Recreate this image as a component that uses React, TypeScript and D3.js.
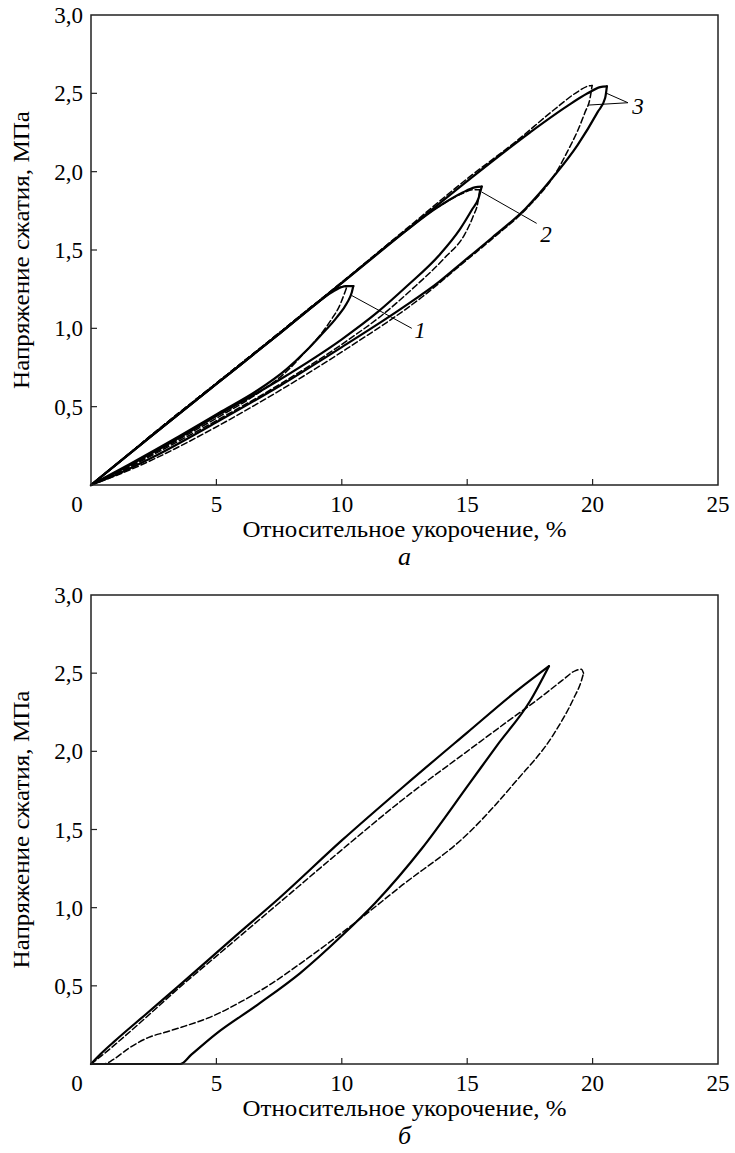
import React from "react";
import * as d3 from "d3";

type Pt = [number, number];

const xTicks = [0, 5, 10, 15, 20, 25];
const yTicks = [0.5, 1.0, 1.5, 2.0, 2.5, 3.0];
const xTitle = "Относительное укорочение, %";
const yTitle = "Напряжение сжатия, МПа";

// panel а: three loops (closed: origin -> peak -> origin), solid and dashed
const loop1Solid: Pt[] = [
  [0, 0], [1, 0.13], [2.5, 0.325], [5, 0.645], [7.5, 0.965], [9, 1.16], [9.7, 1.24], [10.15, 1.27], [10.46, 1.27],
  [10.4, 1.23], [10.2, 1.16], [9.8, 1.07], [9.13, 0.95], [8.6, 0.86], [7.8, 0.74], [6.6, 0.6], [5.1, 0.46], [3.5, 0.31], [1.5, 0.13], [0, 0],
];
const loop1Dashed: Pt[] = [
  [0, 0], [1, 0.13], [2.5, 0.33], [5, 0.65], [7.5, 0.97], [9, 1.165], [9.6, 1.235], [10.0, 1.265], [10.2, 1.265],
  [10.1, 1.22], [9.9, 1.14], [9.6, 1.06], [9.1, 0.95], [8.6, 0.86], [7.9, 0.74], [6.7, 0.59], [5.2, 0.445], [3.6, 0.3], [1.6, 0.125], [0, 0],
];
const loop2Solid: Pt[] = [
  [0, 0], [1, 0.13], [2.5, 0.325], [5, 0.645], [7.5, 0.965], [10, 1.29], [12.5, 1.615], [13.8, 1.77], [14.8, 1.865], [15.3, 1.9], [15.58, 1.905],
  [15.45, 1.83], [15.2, 1.76], [14.7, 1.63], [13.9, 1.47], [12.6, 1.27], [11.4, 1.1], [10, 0.93], [7.5, 0.67], [5, 0.44], [2.5, 0.21], [1, 0.08], [0, 0],
];
const loop2Dashed: Pt[] = [
  [0, 0], [1, 0.13], [2.5, 0.33], [5, 0.65], [7.5, 0.97], [10, 1.29], [12.5, 1.62], [13.8, 1.77], [14.8, 1.86], [15.25, 1.885], [15.5, 1.885],
  [15.42, 1.8], [15.25, 1.72], [14.9, 1.6], [14.1, 1.45], [12.8, 1.25], [11.65, 1.09], [10.2, 0.92], [7.6, 0.65], [5.1, 0.42], [2.5, 0.195], [1, 0.07], [0, 0],
];
const loop3Solid: Pt[] = [
  [0, 0], [1, 0.13], [2.5, 0.325], [5, 0.645], [7.5, 0.965], [10, 1.29], [12.5, 1.615], [15, 1.94], [17.5, 2.25], [19, 2.42], [19.8, 2.5], [20.3, 2.54], [20.57, 2.545],
  [20.5, 2.47], [20.2, 2.38], [19.4, 2.17], [18.5, 1.98], [17.3, 1.76], [16, 1.58], [14.8, 1.42], [13.9, 1.3], [12.5, 1.14], [10, 0.88], [7.5, 0.63], [5, 0.4], [2.5, 0.18], [1, 0.065], [0, 0],
];
const loop3Dashed: Pt[] = [
  [0, 0], [1, 0.13], [2.5, 0.33], [5, 0.65], [7.5, 0.97], [10, 1.295], [12.5, 1.625], [15, 1.955], [17, 2.2], [18.5, 2.4], [19.4, 2.51], [19.8, 2.545], [19.98, 2.55],
  [19.9, 2.47], [19.7, 2.38], [19.4, 2.26], [19.0, 2.13], [18.6, 2.01], [17.4, 1.77], [16.1, 1.585], [14.9, 1.425], [13.2, 1.2], [10.2, 0.87], [7.6, 0.61], [5.1, 0.38], [2.5, 0.165], [1, 0.06], [0, 0],
];

// panel б
const singleSolid: Pt[] = [
  [0, 0], [0.36, 0.06], [0.9, 0.14], [2.2, 0.32], [3.5, 0.5], [5.7, 0.81], [7.5, 1.06], [10, 1.43], [12.5, 1.78], [15, 2.12], [17, 2.39], [18.26, 2.545],
  [17.5, 2.32], [16.2, 2.04], [15.07, 1.79], [13.2, 1.38], [11.33, 1.03], [10, 0.82], [8.33, 0.58], [6.65, 0.38], [4.96, 0.19], [4.0, 0.06], [3.56, 0], [0, 0],
];
const singleDashed: Pt[] = [
  [0, 0], [0.5, 0.0], [0.9, 0.03], [1.5, 0.1], [2.3, 0.17], [3.0, 0.205], [3.6, 0.235], [4.9, 0.31], [6, 0.4], [7.06, 0.5], [8.5, 0.66], [10.5, 0.9],
  [12.3, 1.13], [15.07, 1.48], [16.95, 1.81], [18.45, 2.11], [19.25, 2.34], [19.55, 2.45], [19.64, 2.5],
  [19.55, 2.525], [19.3, 2.515], [18.8, 2.455], [17.8, 2.33], [16.6, 2.19], [15, 2.0], [12.5, 1.7], [10, 1.37], [7.5, 1.03], [5, 0.69], [3.46, 0.48], [2, 0.27], [1, 0.13], [0.4, 0.05], [0, 0],
];

// curve labels of panel а: leader starts, leader end, text position
const labelsA = [
  { text: "1", from: [[10.39, 1.21]] as Pt[], to: [12.79, 1.0] as Pt, at: [13.12, 0.94] as Pt },
  { text: "2", from: [[15.58, 1.87]] as Pt[], to: [17.77, 1.67] as Pt, at: [18.14, 1.55] as Pt },
  { text: "3", from: [[20.56, 2.5], [19.83, 2.425]] as Pt[], to: [21.41, 2.44] as Pt, at: [21.81, 2.37] as Pt },
];

const serif: React.CSSProperties = { fontFamily: '"Liberation Serif", "Times New Roman", Tinos, "DejaVu Serif", serif' };
const fmt = (v: number) => d3.format(".1f")(v).replace(".", ",");

type Series = { pts: Pt[]; dashed: boolean };

// split a closed loop at its rightmost point into two branches, both running origin -> tip
function branches(pts: Pt[]): Pt[][] {
  const k = d3.maxIndex(pts, d => d[0]);
  return [pts.slice(0, k + 1), pts.slice(k).reverse()];
}

function Panel({ top, bottom, series, letter, labels }: {
  top: number; bottom: number; series: Series[]; letter: string; labels?: typeof labelsA;
}) {
  const x = d3.scaleLinear().domain([0, 25]).range([91, 718]);
  const y = d3.scaleLinear().domain([0, 3]).range([bottom, top]);
  const line = d3.line<Pt>().x(d => x(d[0])).y(d => y(d[1])).curve(d3.curveMonotoneX);
  const midY = (top + bottom) / 2;
  const cx = (x(0) + x(25)) / 2;
  return (
    <g>
      {series.map((s, i) => branches(s.pts).map((b, j) => (
        <path key={i + "-" + j} d={line(b) || ""} fill="none" stroke="#000"
          strokeWidth={s.dashed ? 1.5 : 2.2} strokeDasharray={s.dashed ? "6,3" : undefined}
          strokeLinejoin="round" strokeLinecap="round" />
      )))}
      <rect x={x(0)} y={y(3)} width={x(25) - x(0)} height={y(0) - y(3)} fill="none" stroke="#222" strokeWidth={1.5} />
      {xTicks.filter(t => t > 0 && t < 25).map(t => (
        <line key={t} x1={x(t)} x2={x(t)} y1={bottom} y2={bottom - 6} stroke="#222" strokeWidth={1.2} />
      ))}
      {yTicks.filter(t => t < 3).map(t => (
        <line key={t} x1={x(0)} x2={x(0) + 6} y1={y(t)} y2={y(t)} stroke="#222" strokeWidth={1.2} />
      ))}
      {xTicks.map(t => (
        <text key={t} x={t === 0 ? 77 : x(t)} y={bottom + 27} textAnchor="middle" style={serif} fontSize={23}>{t}</text>
      ))}
      {yTicks.map(t => (
        <text key={t} x={83} y={y(t) + 8} textAnchor="end" style={serif} fontSize={23}>{fmt(t)}</text>
      ))}
      <text x={cx} y={bottom + 52} textAnchor="middle" style={serif} fontSize={23}
        textLength={324} lengthAdjust="spacingAndGlyphs">{xTitle}</text>
      <text x={cx} y={bottom + 80} textAnchor="middle" style={serif} fontSize={26} fontStyle="italic">{letter}</text>
      <text transform={`translate(29,${midY}) rotate(-90)`} textAnchor="middle" style={serif} fontSize={23}
        textLength={278} lengthAdjust="spacingAndGlyphs">{yTitle}</text>
      {labels && labels.map(l => (
        <g key={l.text}>
          {l.from.map((f, j) => (
            <line key={j} x1={x(f[0])} y1={y(f[1])} x2={x(l.to[0])} y2={y(l.to[1])} stroke="#000" strokeWidth={1} />
          ))}
          <text x={x(l.at[0])} y={y(l.at[1])} textAnchor="middle" style={serif} fontSize={23} fontStyle="italic">{l.text}</text>
        </g>
      ))}
    </g>
  );
}

export default function App() {
  const seriesA: Series[] = [
    { pts: loop1Solid, dashed: false }, { pts: loop1Dashed, dashed: true },
    { pts: loop2Solid, dashed: false }, { pts: loop2Dashed, dashed: true },
    { pts: loop3Solid, dashed: false }, { pts: loop3Dashed, dashed: true },
  ];
  const seriesB: Series[] = [
    { pts: singleSolid, dashed: false }, { pts: singleDashed, dashed: true },
  ];
  return (
    <svg width={735} height={1153} style={{ position: "absolute", left: 0, top: 0, background: "#fff", ...serif }}>
      <Panel top={15} bottom={485} series={seriesA} letter="а" labels={labelsA} />
      <Panel top={595} bottom={1064} series={seriesB} letter="б" />
    </svg>
  );
}
